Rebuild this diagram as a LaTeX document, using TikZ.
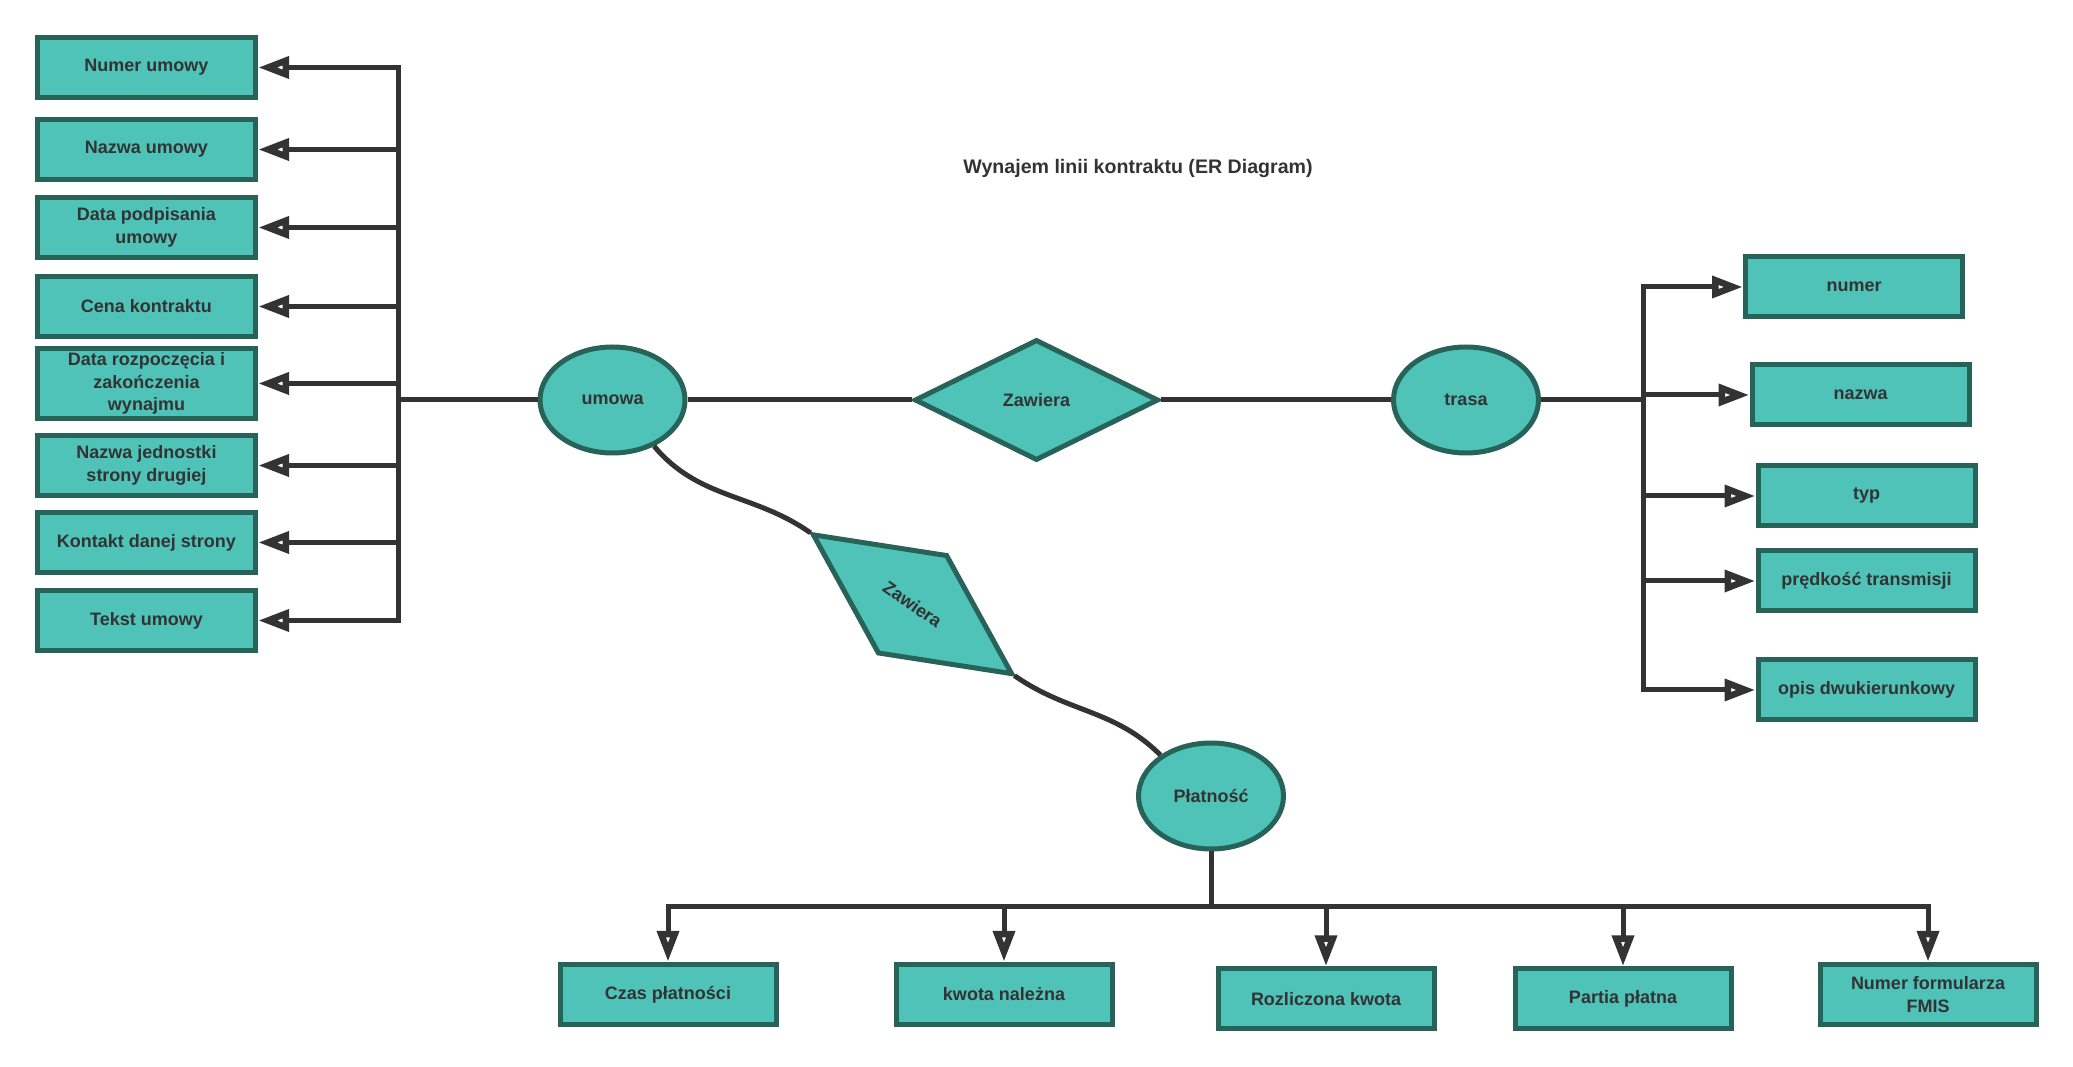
\documentclass[tikz,border=0pt]{standalone}
\usepackage{fontspec}
\setmainfont{Liberation Sans}
\usepackage{xcolor}
\usepackage{tikz}
\usetikzlibrary{shapes.geometric, arrows.meta, positioning}
\definecolor{erfill}{HTML}{4FC3B8}
\definecolor{eredge}{HTML}{28635A}
\definecolor{erline}{HTML}{333333}
\tikzstyle{attr} = [rectangle, minimum width=218pt, minimum height=60pt, line width=5pt, draw=eredge, fill=erfill, text=erline, align=center, font=\bfseries\fontsize{18}{22.5}\selectfont]
\tikzstyle{entity} = [ellipse, minimum width=145pt, minimum height=106pt, line width=5pt, draw=eredge, fill=erfill, text=erline, font=\bfseries\fontsize{18}{22.5}\selectfont]
\tikzstyle{relation} = [diamond, aspect=2, minimum width=244pt, minimum height=121pt, line width=5pt, draw=eredge, fill=erfill, text=erline, font=\bfseries\fontsize{18}{22.5}\selectfont]
\tikzstyle{link} = [line width=5pt, draw=erline]
\tikzstyle{arrow} = [link, -{Triangle[open, length=31pt, width=21pt, line width=6.5pt]}]

\begin{document}
\begin{tikzpicture}[x=1pt, y=1pt]
  \useasboundingbox (0,0) rectangle (2073,1066);
  \node (title) [font=\bfseries\fontsize{19.6}{23}\selectfont, text=erline] at (1138,898) {Wynajem linii kontraktu (ER Diagram)};

  % entities and relations
  \node (umowa) [entity] at (612.5,666) {umowa};
  \node (zaw1) [relation] at (1036.5,666) {Zawiera};
  \node (trasa) [entity] at (1466,666) {trasa};
  \node (zaw2) [relation, rotate=-35] at (912.5,461.75) {Zawiera};
  \node (plat) [entity] at (1211,270) {Płatność};

  % umowa attributes
  \node (n1) [attr] at (146.5,998.5) {Numer umowy};
  \node (n2) [attr, below=17pt of n1] {Nazwa umowy};
  \node (n3) [attr, below=13pt of n2] {Data podpisania\\umowy};
  \node (n4) [attr, below=14pt of n3] {Cena kontraktu};
  \node (n5) [attr, below=7pt of n4, minimum height=70pt] {Data rozpoczęcia i\\zakończenia\\wynajmu};
  \node (n6) [attr, below=12pt of n5] {Nazwa jednostki\\strony drugiej};
  \node (n7) [attr, below=12pt of n6] {Kontakt danej strony};
  \node (n8) [attr, below=13pt of n7] {Tekst umowy};
  \coordinate (lbus) at (398,666);

  % trasa attributes
  \node (r1) [attr, minimum width=217pt] at (1854,779) {numer};
  \node (r2) [attr, minimum width=217pt, below=43pt of r1, xshift=6.5pt] {nazwa};
  \node (r3) [attr, minimum width=217pt, below=36pt of r2, xshift=6pt] {typ};
  \node (r4) [attr, minimum width=217pt, below=20pt of r3] {prędkość transmisji};
  \node (r5) [attr, minimum width=217pt, below=44pt of r4] {opis dwukierunkowy};
  \coordinate (rbus) at (1643,666);

  % payment attributes
  \node (b1) [attr, minimum width=216pt] at (668,71.6) {Czas płatności};
  \node (b2) [attr, minimum width=216pt, right=115pt of b1] {kwota należna};
  \node (b3) [attr, minimum width=216pt, right=101pt of b2, yshift=-4.5pt] {Rozliczona kwota};
  \node (b4) [attr, minimum width=216pt, right=76pt of b3] {Partia płatna};
  \node (b5) [attr, minimum width=216pt, right=84pt of b4, yshift=4.5pt] {Numer formularza\\FMIS};
  \coordinate (bbus) at (1211,159);

  \draw[link] (umowa) -- (zaw1);
  \draw[link] (zaw1) -- (trasa);
  \draw[link] (umowa.-48) to[out=-50, in=145] (zaw2.west);
  \draw[link] (zaw2.east) to[out=-35, in=135] (plat.141);

  \draw[arrow] (umowa.west) -- (lbus) |- (n1.east);
  \draw[arrow] (umowa.west) -- (lbus) |- (n2.east);
  \draw[arrow] (umowa.west) -- (lbus) |- (n3.east);
  \draw[arrow] (umowa.west) -- (lbus) |- (n4.east);
  \draw[arrow] (umowa.west) -- (lbus) |- (n5.east);
  \draw[arrow] (umowa.west) -- (lbus) |- (n6.east);
  \draw[arrow] (umowa.west) -- (lbus) |- (n7.east);
  \draw[arrow] (umowa.west) -- (lbus) |- (n8.east);

  \draw[arrow] (trasa.east) -- (rbus) |- (r1.west);
  \draw[arrow] (trasa.east) -- (rbus) |- (r2.west);
  \draw[arrow] (trasa.east) -- (rbus) |- (r3.west);
  \draw[arrow] (trasa.east) -- (rbus) |- (r4.west);
  \draw[arrow] (trasa.east) -- (rbus) |- (r5.west);

  \draw[arrow] (plat.south) -- (bbus) -| (b1.north);
  \draw[arrow] (plat.south) -- (bbus) -| (b2.north);
  \draw[arrow] (plat.south) -- (bbus) -| (b3.north);
  \draw[arrow] (plat.south) -- (bbus) -| (b4.north);
  \draw[arrow] (plat.south) -- (bbus) -| (b5.north);
\end{tikzpicture}
\end{document}
